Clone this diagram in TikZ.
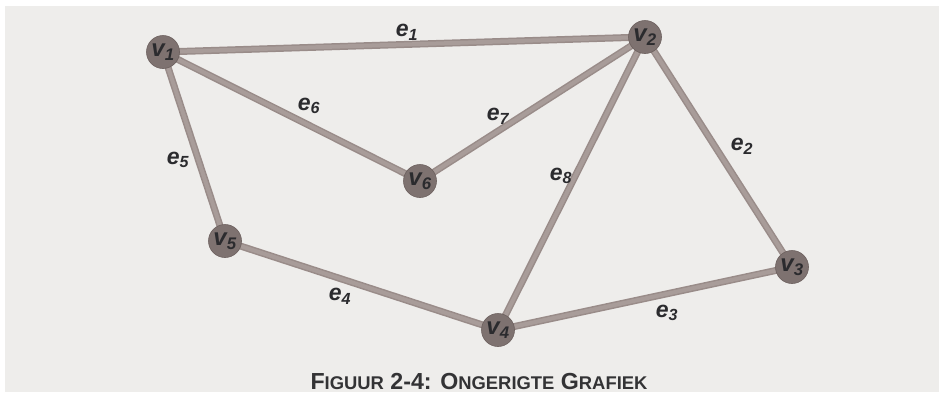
\documentclass[tikz,border=0pt]{standalone}
\usepackage{fontspec}
\setmainfont{Liberation Sans}
\begin{document}
\definecolor{pagebg}{HTML}{EEEDEB}
\definecolor{edgeout}{HTML}{998C89}
\definecolor{edgein}{HTML}{A89C99}
\definecolor{vfill}{HTML}{7E7270}
\definecolor{vline}{HTML}{6C605E}
\definecolor{ink}{HTML}{2B2B2E}
\definecolor{capink}{HTML}{333335}
\newcommand\smcap[1]{{\fontsize{18.4}{20}\selectfont #1}}
\begin{tikzpicture}[x=1pt,y=-1pt,
  vertex/.style={circle,fill=vfill,draw=vline,line width=0.6pt,minimum size=33pt,inner sep=0pt,
    text=ink,font=\fontsize{24}{24}\selectfont\bfseries\itshape},
  edgelbl/.style={text=ink,font=\fontsize{23}{23}\selectfont\bfseries\itshape,inner sep=1pt},
  edgebase/.style={draw=edgeout,line width=7pt},
  edgetop/.style={draw=edgein,line width=4pt}]
\useasboundingbox (0,0) rectangle (939,394);
\fill[white] (0,0) rectangle (939,394);
\fill[pagebg] (5,6) rectangle (939,392);
% vertex positions
\coordinate (p1) at (163,52);
\coordinate (p2) at (645,37);
\coordinate (p3) at (792,267);
\coordinate (p4) at (498,330);
\coordinate (p5) at (225,241);
\coordinate (p6) at (420,181);
% edges: darker body with a lighter core
\foreach \a/\b in {p1/p2,p1/p6,p6/p2,p1/p5,p5/p4,p4/p2,p2/p3,p4/p3}{
  \path[edgebase] (\a) -- (\b);
}
\foreach \a/\b in {p1/p2,p1/p6,p6/p2,p1/p5,p5/p4,p4/p2,p2/p3,p4/p3}{
  \path[edgetop] (\a) -- (\b);
}
% vertices
\node[vertex] (v1) at (p1) {v\textsubscript{1}};
\node[vertex] (v2) at (p2) {v\textsubscript{2}};
\node[vertex] (v3) at (p3) {v\textsubscript{3}};
\node[vertex] (v4) at (p4) {v\textsubscript{4}};
\node[vertex] (v5) at (p5) {v\textsubscript{5}};
\node[vertex] (v6) at (p6) {v\textsubscript{6}};
% edge labels
\node[edgelbl] (e1) at (407,32) {e\textsubscript{1}};
\node[edgelbl] (e2) at (742,146) {e\textsubscript{2}};
\node[edgelbl] (e3) at (667,313) {e\textsubscript{3}};
\node[edgelbl] (e4) at (340,296) {e\textsubscript{4}};
\node[edgelbl] (e5) at (178,160) {e\textsubscript{5}};
\node[edgelbl] (e6) at (309,106) {e\textsubscript{6}};
\node[edgelbl] (e7) at (498,116) {e\textsubscript{7}};
\node[edgelbl] (e8) at (561,176) {e\textsubscript{8}};
% caption
\node[text=capink,font=\fontsize{23.2}{25}\selectfont\bfseries] (cap) at (479,382)
  {F\smcap{IGUUR} 2-4: O\smcap{NGERIGTE} G\smcap{RAFIEK}};
\end{tikzpicture}
\end{document}
